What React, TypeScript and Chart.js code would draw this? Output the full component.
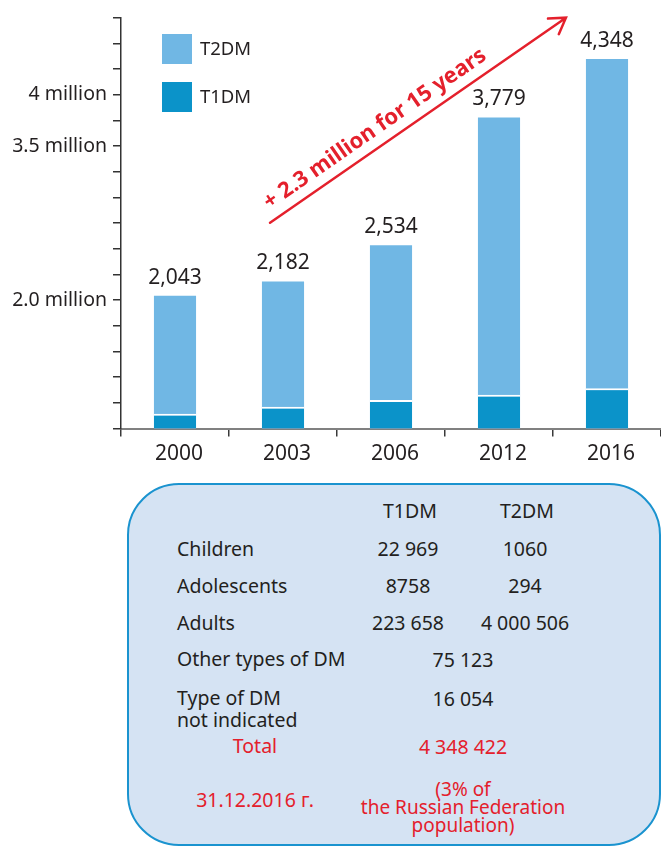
import React, { useEffect, useRef } from 'react';
import { Chart, registerables } from 'chart.js';

Chart.register(...registerables);

// ---------- data ----------
const years = ['2000', '2003', '2006', '2012', '2016'];
// total registered patients with diabetes, thousands (labels above the bars)
const totals = [2043, 2182, 2534, 3779, 4348];
// T1DM part of each bar, thousands (estimated from the dark segments)
const t1dm = [93, 138, 180, 214, 255];
const yTickLabels: Record<number, string> = { 2000: '2.0 million', 3500: '3.5 million', 4000: '4 million' };
const seriesNames = ['T2DM', 'T1DM'];
const growthNote = '+ 2.3 million for 15 years';

const tableColumns = ['T1DM', 'T2DM'];
const tableRows = ['Children', 'Adolescents', 'Adults'];
const tableT1 = [22969, 8758, 223658];
const tableT2 = [1060, 294, 4000506];
const mergedRows = ['Other types of DM', 'Type of DM', 'not indicated'];
const mergedValues = [75123, 16054];
const totalLabel = 'Total';
const totalValue = 4348422;
const dateLabel = '31.12.2016 г.';
const shareNote = ['(3% of', 'the Russian Federation', 'population)'];

// ---------- style ----------
const FONT = '"Noto Sans", sans-serif';
const TEXT = '#231f20';
const RED = '#e4202c';
const LIGHT = '#70b7e4';
const DARK = '#0b93c9';

const fmt = (n: number) =>
  n < 10000 ? String(n) : String(n).replace(/\B(?=(\d{3})+(?!\d))/g, ' ');

const annotationPlugin = {
  id: 'annotations',
  afterDatasetsDraw(chart: any) {
    const { ctx, scales } = chart;
    const x = scales.x;
    const y = scales.y;
    ctx.save();
    // value labels above the total bars
    const meta = chart.getDatasetMeta(1);
    ctx.font = `21px ${FONT}`;
    ctx.fillStyle = TEXT;
    ctx.textAlign = 'center';
    ctx.textBaseline = 'alphabetic';
    meta.data.forEach((bar: any, i: number) => {
      ctx.fillText(totals[i].toLocaleString('en-US'), bar.x, bar.y - 12);
    });
    // growth arrow
    const x0 = x.getPixelForValue(0.88);
    const y0 = y.getPixelForValue(2754);
    const x1 = x.getPixelForValue(3.62);
    const y1 = y.getPixelForValue(4750);
    const ang = Math.atan2(y1 - y0, x1 - x0);
    const len = Math.hypot(x1 - x0, y1 - y0);
    ctx.translate(x0, y0);
    ctx.rotate(ang);
    ctx.strokeStyle = RED;
    ctx.lineWidth = 2.5;
    ctx.lineCap = 'round';
    ctx.beginPath();
    ctx.moveTo(0, 0);
    ctx.lineTo(len, 0);
    ctx.moveTo(len - 15.3, -9.5);
    ctx.lineTo(len, 0);
    ctx.lineTo(len - 15.3, 9.5);
    ctx.stroke();
    ctx.fillStyle = RED;
    ctx.font = `bold 22px ${FONT}`;
    ctx.textAlign = 'left';
    ctx.fillText(growthNote, 7, -11);
    ctx.restore();
  },
};

const txt = (
  s: string,
  cx: number,
  cy: number,
  align: 'left' | 'center',
  color = TEXT,
  size = 19.5,
) => {
  const lh = 22;
  const style: React.CSSProperties = {
    position: 'absolute',
    top: cy - 11.6,
    height: lh,
    lineHeight: `${lh}px`,
    fontSize: size,
    color,
    whiteSpace: 'nowrap',
  };
  if (align === 'center') {
    style.left = cx - 150;
    style.width = 300;
    style.textAlign = 'center';
  } else {
    style.left = cx;
  }
  return (
    <div key={`${s}-${cx}-${cy}`} style={style}>
      {s}
    </div>
  );
};

export default function App() {
  const canvasRef = useRef<HTMLCanvasElement | null>(null);

  useEffect(() => {
    const chart = new Chart(canvasRef.current as HTMLCanvasElement, {
      type: 'bar',
      data: {
        labels: years,
        datasets: [
          {
            label: seriesNames[1],
            data: t1dm,
            yAxisID: 'y2',
            backgroundColor: DARK,
            borderColor: '#ffffff',
            borderWidth: { top: 2, right: 0, bottom: 0, left: 0 },
            grouped: false,
            barPercentage: 0.39,
            categoryPercentage: 1,
            inflateAmount: 0,
          } as any,
          {
            label: seriesNames[0],
            data: totals,
            yAxisID: 'y',
            backgroundColor: LIGHT,
            borderWidth: 0,
            grouped: false,
            barPercentage: 0.39,
            categoryPercentage: 1,
            inflateAmount: 0,
          } as any,
        ],
      },
      options: {
        responsive: false,
        animation: false,
        devicePixelRatio: 1,
        layout: { padding: { top: 17, left: 0, right: 0, bottom: 0 } },
        plugins: { legend: { display: false }, tooltip: { enabled: false } },
        scales: {
          x: {
            offset: true,
            grid: {
              offset: true,
              drawOnChartArea: false,
              drawTicks: true,
              tickLength: 8,
              color: '#3a3a3a',
              lineWidth: 1.5,
            },
            border: { display: true, color: '#808080', width: 2 },
            ticks: {
              font: { family: FONT, size: 21 },
              color: TEXT,
              padding: 5,
              labelOffset: 4,
              maxRotation: 0,
            },
            afterFit: (s: any) => {
              s.height = 51.5;
            },
          },
          y: {
            position: 'left',
            min: 750,
            max: 4750,
            ticks: {
              stepSize: 250,
              autoSkip: false,
              padding: 6,
              font: { family: FONT, size: 19.5 },
              color: TEXT,
              callback: (v: any) => yTickLabels[Number(v)] ?? '',
            },
            grid: {
              drawOnChartArea: false,
              drawTicks: true,
              tickLength: 8,
              color: '#333333',
              lineWidth: 1.5,
            },
            border: { display: true, color: '#333333', width: 1.5 },
            afterFit: (s: any) => {
              s.width = 121;
            },
          },
          y2: { display: false, min: 0, max: 2600 },
        },
      } as any,
      plugins: [annotationPlugin],
    });
    return () => chart.destroy();
  }, []);

  const legendColors = [LIGHT, DARK];
  const col1 = 408;
  const col2 = 525;
  const colMerged = 463;

  return (
    <div
      style={{
        position: 'absolute',
        left: 0,
        top: 0,
        width: 661,
        height: 847,
        overflow: 'hidden',
        background: '#ffffff',
        fontFamily: FONT,
        color: TEXT,
      }}
    >
      <canvas
        ref={canvasRef}
        width={661}
        height={480}
        style={{ position: 'absolute', left: 0, top: 0, width: 661, height: 480 }}
      />
      {/* legend */}
      {seriesNames.map((name, i) => (
        <React.Fragment key={name}>
          <div
            style={{
              position: 'absolute',
              left: 162,
              top: 34 + i * 48,
              width: 30,
              height: 30,
              background: legendColors[i],
            }}
          />
          {txt(name, 200, 49 + i * 48, 'left', TEXT, 18.5)}
        </React.Fragment>
      ))}
      {/* summary table */}
      <div
        style={{
          position: 'absolute',
          left: 127,
          top: 483,
          width: 534,
          height: 363,
          boxSizing: 'border-box',
          border: '2.5px solid #1a93cf',
          borderRadius: 52,
          background: '#d5e3f3',
        }}
      />
      {tableColumns.map((c, i) => txt(c, i === 0 ? col1 + 2 : col2 + 2, 512, 'center'))}
      {tableRows.map((r, i) => (
        <React.Fragment key={r}>
          {txt(r, 177, 550 + i * 36.7, 'left')}
          {txt(fmt(tableT1[i]), col1, 550 + i * 36.7, 'center')}
          {txt(fmt(tableT2[i]), col2, 550 + i * 36.7, 'center')}
        </React.Fragment>
      ))}
      {txt(mergedRows[0], 177, 660, 'left')}
      {txt(fmt(mergedValues[0]), colMerged, 660.5, 'center')}
      {txt(mergedRows[1], 177, 699, 'left')}
      {txt(mergedRows[2], 177, 720.5, 'left')}
      {txt(fmt(mergedValues[1]), colMerged, 700, 'center')}
      {txt(totalLabel, 255, 747, 'center', RED)}
      {txt(fmt(totalValue), colMerged, 747.5, 'center', RED)}
      {txt(dateLabel, 255, 800.5, 'center', RED)}
      {shareNote.map((s, i) => txt(s, colMerged, 790 + i * 18, 'center', RED, 19))}
    </div>
  );
}
